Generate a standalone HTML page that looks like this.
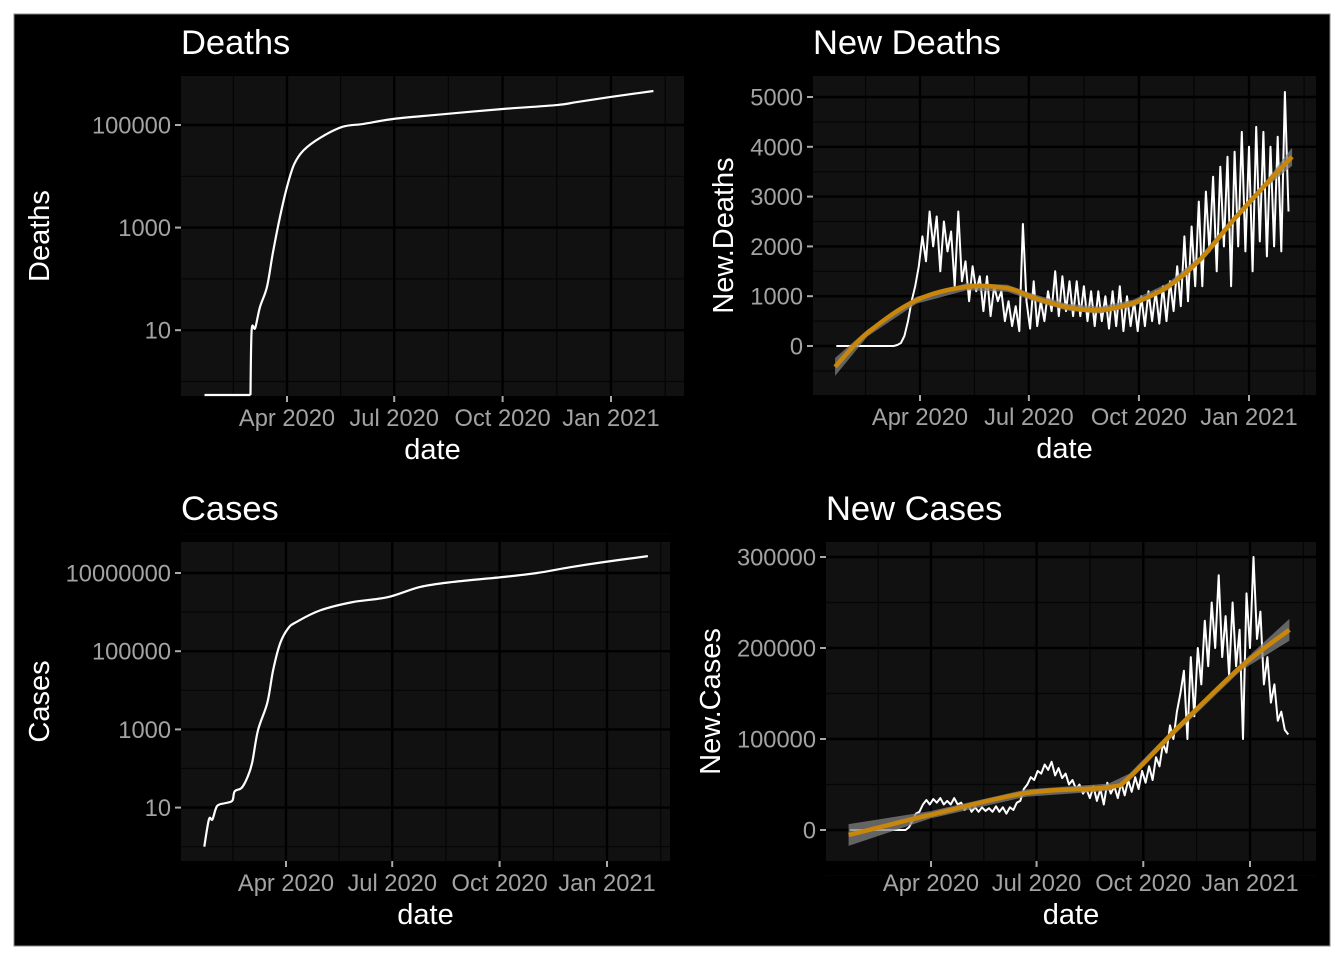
<!DOCTYPE html>
<html><head><meta charset="utf-8">
<style>
html,body{margin:0;padding:0;background:#fff;}
svg{display:block;}
text{font-family:"Liberation Sans",Arial,sans-serif;}
</style></head>
<body>
<svg id="chart" width="1344" height="960" viewBox="0 0 1344 960" xmlns="http://www.w3.org/2000/svg">
<rect x="0" y="0" width="1344" height="960" fill="#fff"/>
<rect x="14" y="14" width="1316" height="932" fill="#000" stroke="#888" stroke-width="1"/>
</svg>
<script>
// ---- data (day index from 2020-01-22) ----
const tickLabels = ["Apr 2020","Jul 2020","Oct 2020","Jan 2021"];
const tickDays = [70,161,253,345];

const deathDays = [0,37,39,40,43,47,53,58,64,70,76,84,98,117,135,160,197,253,299,316,344,381];
const deathVals = [0,0,0,10,11,28,70,320,1600,6200,17000,32000,56000,92000,105000,131000,158000,205000,245000,280000,350000,460000];

const caseDays = [0,4,7,11,18,24,26,32,37,41,46,54,59,65,72,79,99,127,157,185,213,256,285,313,342,380];
const caseVals = [1,5,5,11,13,15,26,32,60,140,950,4800,33000,160000,390000,560000,1100000,1800000,2400000,4400000,5900000,7900000,10000000,14000000,19000000,27000000];

const dailyStep = 3;
const newDeaths = [0,0,0,0,0,0,0,0,0,0,0,0,0,0,0,0,0,
20,60,200,500,900,1200,1600,2200,1700,2700,2000,2600,1500,2500,1900,2300,1200,2700,1300,1700,900,1600,1100,1400,700,1400,600,1200,900,1100,500,900,400,800,300,2450,900,350,1300,400,900,500,1100,700,1500,600,1400,700,1300,600,1300,600,1200,500,1100,400,1100,500,1000,350,1100,400,1200,300,1000,400,900,300,1000,400,1100,500,1100,450,1200,500,1300,700,1600,800,2200,900,2400,1200,2900,1200,3100,1900,3400,1500,3600,2000,3800,1200,3900,2000,4300,1900,4000,1500,4400,2100,4300,1800,4000,2000,4200,1900,5100,2700];
const newCases = [0,0,0,0,0,0,0,0,0,0,0,0,0,0,0,0,0,
3000,10000,18000,20000,28000,33000,28000,34000,30000,35000,28000,32000,28000,35000,28000,30000,22000,28000,20000,25000,20000,25000,21000,24000,20000,26000,20000,25000,18000,25000,22000,30000,32000,45000,50000,58000,55000,65000,62000,72000,66000,75000,60000,68000,57000,62000,50000,55000,45000,50000,40000,45000,35000,48000,32000,45000,28000,52000,40000,48000,35000,52000,38000,55000,42000,58000,45000,65000,52000,70000,55000,80000,70000,95000,85000,115000,100000,130000,150000,175000,100000,190000,125000,200000,160000,230000,180000,250000,200000,280000,190000,235000,170000,250000,180000,220000,100000,260000,200000,300000,210000,240000,160000,190000,140000,160000,120000,130000,110000,105000];

const smoothDeathDays = [-1,26,67,109,143,164,193,220,248,277,304,332,360,381];
const smoothDeathVals = [-420,260,920,1190,1160,980,780,720,860,1190,1730,2530,3270,3800];
const smoothCaseDays = [-1,69,152,223,241,281,337,379];
const smoothCaseVals = [-5500,16500,40600,47000,58000,110000,179000,220000];

// ---- drawing ----
const svg = document.getElementById('chart');
const NS = 'http://www.w3.org/2000/svg';
function mk(tag, attrs, parent){const e=document.createElementNS(NS,tag);for(const k in attrs)e.setAttribute(k,attrs[k]);(parent||svg).appendChild(e);return e;}

function panel(cfg){
  const g = mk('g',{});
  
  
  const bg = mk('rect',{x:cfg.x0,y:cfg.y0,width:cfg.x1-cfg.x0,height:cfg.y1-cfg.y0,fill:'#111'},g);
  
  
  const k = (cfg.pJan-cfg.pApr)/(345-70);
  const xs = d => cfg.pApr + (d-70)*k;
  const ys = cfg.ys;
  const tickPx = tickDays.map(xs);
  const vMinor = [];
  for(let i=0;i<tickPx.length-1;i++) vMinor.push((tickPx[i]+tickPx[i+1])/2);
  vMinor.push(tickPx[0]-(tickPx[1]-tickPx[0])/2);
  vMinor.push(tickPx[3]+(tickPx[3]-tickPx[2])/2);
  vMinor.forEach(p=>{ if(p>cfg.x0&&p<cfg.x1){const l=mk('line',{x1:p,x2:p,y1:cfg.y0,y2:cfg.y1,stroke:'#050505','stroke-width':1.2},g);}});
  cfg.yMinorPx.forEach(p=>{const l=mk('line',{x1:cfg.x0,x2:cfg.x1,y1:p,y2:p,stroke:'#050505','stroke-width':1.2},g);});
  tickPx.forEach(p=>{const l=mk('line',{x1:p,x2:p,y1:cfg.y0,y2:cfg.y1,stroke:'#000','stroke-width':2.4},g);});
  cfg.yTicks.forEach(v=>{const p=ys(v);const l=mk('line',{x1:cfg.x0,x2:cfg.x1,y1:p,y2:p,stroke:'#000','stroke-width':2.4},g);});
  tickPx.forEach((p,i)=>{
    const t=mk('line',{x1:p,x2:p,y1:cfg.y1,y2:cfg.y1+6,stroke:'#aaa','stroke-width':2},g);
    
    const tx=mk('text',{x:p,y:cfg.y1+30,'text-anchor':'middle','font-size':23.7,fill:'#a3a3a3'},g);
    
    tx.textContent=tickLabels[i];
  });
  cfg.yTicks.forEach((v,i)=>{
    const p=ys(v);
    const t=mk('line',{x1:cfg.x0-6,x2:cfg.x0,y1:p,y2:p,stroke:'#aaa','stroke-width':2},g);
    
    const tx=mk('text',{x:cfg.x0-10,y:p+8.5,'text-anchor':'end','font-size':23.7,fill:'#a3a3a3'},g);
    
    tx.textContent=cfg.yLabels[i];
  });
  const ti=mk('text',{x:cfg.x0,y:cfg.y0-22,'font-size':34.5,fill:'#fff'},g);
  
  ti.textContent=cfg.title;
  const xt=mk('text',{x:(cfg.x0+cfg.x1)/2,y:cfg.y1+63,'text-anchor':'middle','font-size':29,fill:'#fff'},g);
  
  xt.textContent='date';
  const cy=(cfg.y0+cfg.y1)/2;
  const yt=mk('text',{x:cfg.yTitleX,y:cy,'text-anchor':'middle','font-size':29,fill:'#fff',transform:`rotate(-90 ${cfg.yTitleX} ${cy})`},g);
  
  yt.textContent=cfg.yTitle;
  return {g,xs,ys};
}

function linePath(days, vals, xs, ys){
  return days.map((d,i)=>(i?'L':'M')+xs(d).toFixed(1)+','+ys(vals[i]).toFixed(1)).join(' ');
}
function catmull(days, vals, xs, ys){
  const pts=days.map((d,i)=>[xs(d),ys(vals[i])]);
  let s='M'+pts[0][0]+','+pts[0][1];
  for(let i=0;i<pts.length-1;i++){
    const p0=pts[i-1]||pts[i],p1=pts[i],p2=pts[i+1],p3=pts[i+2]||p2;
    s+=` C${p1[0]+(p2[0]-p0[0])/6},${p1[1]+(p2[1]-p0[1])/6} ${p2[0]-(p3[0]-p1[0])/6},${p2[1]-(p3[1]-p1[1])/6} ${p2[0]},${p2[1]}`;
  }
  return s;
}

// Panel 1: Deaths (log)
(function(){
  const y0=76,y1=396;
  const ys=v=> v<=0 ? 395 : 125 - (Math.log10(v)-5)*51.3;
  const P=panel({name:'deaths-panel',title:'Deaths',yTitle:'Deaths',yTitleX:49,x0:181,x1:684,y0,y1,pApr:287,pJan:611,ys,
    yTicks:[100000,1000,10],yLabels:['100000','1000','10'],yMinorPx:[ys(Math.pow(10,6)),ys(Math.pow(10,4)),ys(100),ys(1)]});
  const p=mk('path',{d:linePath(deathDays.slice(0,3),deathVals.slice(0,3),P.xs,ys)+' '+catmull(deathDays.slice(2),deathVals.slice(2),P.xs,ys).replace(/^M/,'L'),fill:'none',stroke:'#fff','stroke-width':2.2},P.g);
  
})();

// Panel 3: Cases (log)
(function(){
  const y0=542,y1=861;
  const ys=v=> 573 - (Math.log10(v)-7)*39.1;
  const P=panel({name:'cases-panel',title:'Cases',yTitle:'Cases',yTitleX:49,x0:181,x1:670,y0,y1,pApr:286,pJan:607,ys,
    yTicks:[10000000,100000,1000,10],yLabels:['10000000','100000','1000','10'],yMinorPx:[ys(1e8),ys(1e6),ys(1e4),ys(100),ys(1)]});
  const p=mk('path',{d:catmull(caseDays,caseVals,P.xs,ys),fill:'none',stroke:'#fff','stroke-width':2.2},P.g);
  
})();

function smoothBand(days, vals, xs, ys, halfWidths, g, name){
  const up=days.map((d,i)=>xs(d).toFixed(1)+','+ys(vals[i]+halfWidths[i]).toFixed(1));
  const dn=days.map((d,i)=>xs(d).toFixed(1)+','+ys(vals[i]-halfWidths[i]).toFixed(1)).reverse();
  const b=mk('polygon',{points:up.concat(dn).join(' '),fill:'#808080','fill-opacity':0.75},g);
  
}

// Panel 2: New Deaths
(function(){
  const y0=76,y1=395;
  const ys=v=> 346 - v*(249/5000);
  const P=panel({name:'new-deaths-panel',title:'New Deaths',yTitle:'New.Deaths',yTitleX:733,x0:813,x1:1316,y0,y1,pApr:920,pJan:1249,ys,
    yTicks:[5000,4000,3000,2000,1000,0],yLabels:['5000','4000','3000','2000','1000','0'],yMinorPx:[4500,3500,2500,1500,500,-500].map(ys)});
  const days=newDeaths.map((v,i)=>i*dailyStep);
  const p=mk('path',{d:linePath(days,newDeaths,P.xs,ys),fill:'none',stroke:'#fff','stroke-width':2,'stroke-linejoin':'round'},P.g);
  
  const hw=smoothDeathDays.map((d,i)=> (i===0||i===smoothDeathDays.length-1)?180:70);
  smoothBand(smoothDeathDays,smoothDeathVals,P.xs,ys,hw,P.g,'new-deaths');
  const s=mk('path',{d:catmull(smoothDeathDays,smoothDeathVals,P.xs,ys),fill:'none',stroke:'#c8860a','stroke-width':4.5},P.g);
  
})();

// Panel 4: New Cases
(function(){
  const y0=542,y1=861;
  const ys=v=> 830 - v*(91/100000);
  const P=panel({name:'new-cases-panel',title:'New Cases',yTitle:'New.Cases',yTitleX:720,x0:826,x1:1316,y0,y1,pApr:931,pJan:1250,ys,
    yTicks:[300000,200000,100000,0],yLabels:['300000','200000','100000','0'],yMinorPx:[250000,150000,50000,-50000].map(ys)});
  const days=newCases.map((v,i)=>i*dailyStep);
  const p=mk('path',{d:linePath(days,newCases,P.xs,ys),fill:'none',stroke:'#fff','stroke-width':2,'stroke-linejoin':'round'},P.g);
  
  const hw=smoothCaseDays.map((d,i)=> (i===0||i===smoothCaseDays.length-1)?12000:4000);
  smoothBand(smoothCaseDays,smoothCaseVals,P.xs,ys,hw,P.g,'new-cases');
  const s=mk('path',{d:catmull(smoothCaseDays,smoothCaseVals,P.xs,ys),fill:'none',stroke:'#c8860a','stroke-width':4.5},P.g);
  
})();
</script>
</body></html>
